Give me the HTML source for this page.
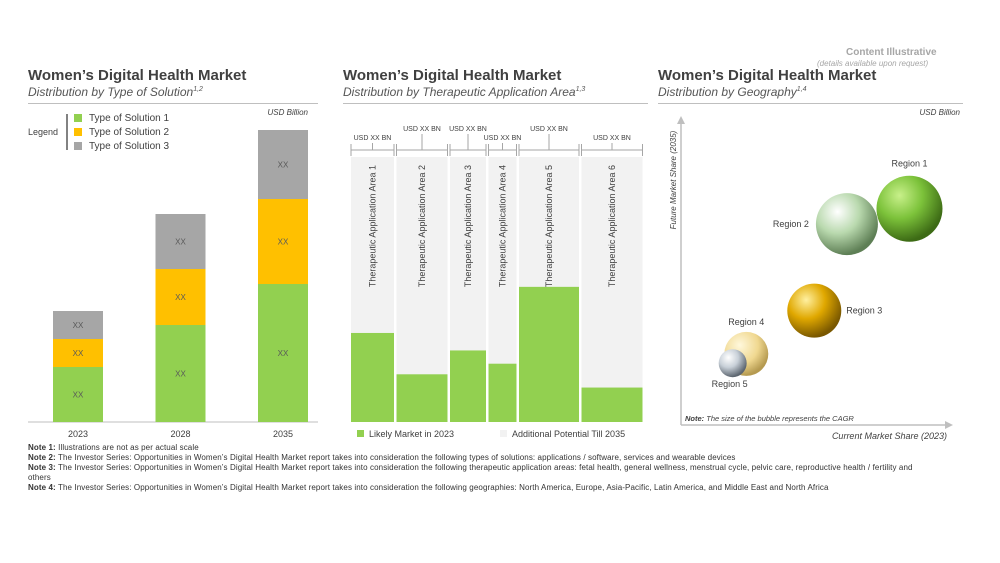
<!DOCTYPE html>
<html><head><meta charset="utf-8"><style>
body{margin:0;width:1000px;height:563px;background:#fff;font-family:"Liberation Sans",sans-serif;overflow:hidden;position:relative}
.t{position:absolute;color:#404040}
.h{font-size:15px;font-weight:bold;color:#404040}
.s{font-size:12px;font-style:italic;color:#555}
.hr{position:absolute;height:1px;background:#bfbfbf}
.note{position:absolute;left:28px;font-size:8px;color:#333;width:900px;line-height:10px;letter-spacing:0.1px}
</style></head><body>
<div class="t" style="left:846px;top:47px;font-size:10px;font-weight:bold;color:#a6a6a6">Content Illustrative</div>
<div class="t" style="left:817px;top:59px;font-size:8px;font-style:italic;color:#a6a6a6">(details available upon request)</div>

<div class="t h" style="left:28px;top:67px">Women’s Digital Health Market</div>
<div class="t s" style="left:28px;top:85px">Distribution by Type of Solution<sup style="font-size:7px">1,2</sup></div>
<div class="hr" style="left:28px;top:103px;width:290px"></div>
<div class="t h" style="left:343px;top:67px">Women’s Digital Health Market</div>
<div class="t s" style="left:343px;top:85px">Distribution by Therapeutic Application Area<sup style="font-size:7px">1,3</sup></div>
<div class="hr" style="left:343px;top:103px;width:305px"></div>
<div class="t h" style="left:658px;top:67px">Women’s Digital Health Market</div>
<div class="t s" style="left:658px;top:85px">Distribution by Geography<sup style="font-size:7px">1,4</sup></div>
<div class="hr" style="left:658px;top:103px;width:305px"></div>

<svg id="c" width="1000" height="563" style="position:absolute;left:0;top:0" font-family="Liberation Sans, sans-serif">
<defs>
<radialGradient id="g1" cx="35%" cy="30%" r="70%"><stop offset="0" stop-color="#c8f08a"/><stop offset="0.5" stop-color="#7cc23a"/><stop offset="1" stop-color="#3d6b15"/></radialGradient>
<radialGradient id="g2" cx="35%" cy="30%" r="70%"><stop offset="0" stop-color="#ffffff"/><stop offset="0.5" stop-color="#b9d9ae"/><stop offset="1" stop-color="#5e7f55"/></radialGradient>
<radialGradient id="g3" cx="35%" cy="30%" r="70%"><stop offset="0" stop-color="#fff0a0"/><stop offset="0.5" stop-color="#e0a800"/><stop offset="1" stop-color="#7a5800"/></radialGradient>
<radialGradient id="g4" cx="35%" cy="30%" r="70%"><stop offset="0" stop-color="#fff8dc"/><stop offset="0.6" stop-color="#f0d890"/><stop offset="1" stop-color="#b59a50"/></radialGradient>
<radialGradient id="g5" cx="35%" cy="30%" r="70%"><stop offset="0" stop-color="#ffffff"/><stop offset="0.5" stop-color="#c8d0d8"/><stop offset="1" stop-color="#5d6670"/></radialGradient>
</defs>
</svg>

<div class="note" style="top:443px"><b>Note 1:</b> Illustrations are not as per actual scale</div>
<div class="note" style="top:453px"><b>Note 2:</b> The Investor Series: Opportunities in Women’s Digital Health Market report takes into consideration the following types of solutions: applications / software, services and wearable devices</div>
<div class="note" style="top:463px"><b>Note 3:</b> The Investor Series: Opportunities in Women’s Digital Health Market report takes into consideration the following therapeutic application areas: fetal health, general wellness, menstrual cycle, pelvic care, reproductive health / fertility and others</div>
<div class="note" style="top:483px"><b>Note 4:</b> The Investor Series: Opportunities in Women’s Digital Health Market report takes into consideration the following geographies: North America, Europe, Asia-Pacific, Latin America, and Middle East and North Africa</div>

<script>
// Chart 1 data
const years=['2023','2028','2035'];
const sol1=[55,97,138];
const sol2=[28,56,85];
const sol3=[28,55,69];
// Chart 2 data
const areas=['Therapeutic Application Area 1','Therapeutic Application Area 2','Therapeutic Application Area 3','Therapeutic Application Area 4','Therapeutic Application Area 5','Therapeutic Application Area 6'];
const areaSize=[43,51,36,28,60,61];
const likelyShare=[0.336,0.18,0.27,0.22,0.51,0.13];
// Chart 3 data
const regions=['Region 1','Region 2','Region 3','Region 4','Region 5'];
const currentShare=[84,61,49,24,19];
const futureShare=[70,65,37,23,20];
const cagr=[33,31,27,22,14];

const svg=document.getElementById('c');
const NS='http://www.w3.org/2000/svg';
function mk(tag,a,txt){const e=document.createElementNS(NS,tag);for(const k in a)e.setAttribute(k,a[k]);if(txt!==undefined)e.textContent=txt;svg.appendChild(e);return e;}

// ---- Chart 1 ----
const base1=422, y1=v=>v*1.0;
const x1=i=>53+i*102.5;
mk('text',{x:308,y:115,'font-size':8,'font-style':'italic','text-anchor':'end',fill:'#404040'},'USD Billion');
mk('line',{x1:28,y1:422,x2:318,y2:422,stroke:'#bfbfbf'});
const cols=['#92d050','#ffc000','#a6a6a6'];
years.forEach((yr,i)=>{
  let b=base1;
  [sol1[i],sol2[i],sol3[i]].forEach((v,k)=>{
    const h=y1(v);
    const r=mk('rect',{x:x1(i),y:b-h,width:50,height:h,fill:cols[k]});
    
    
    mk('text',{x:x1(i)+25,y:b-h/2+3,'font-size':8,'text-anchor':'middle',fill:'#595959'},'XX');
    b-=h;
  });
  mk('text',{x:x1(i)+25,y:437,'font-size':9,'text-anchor':'middle',fill:'#404040'},yr);
});
mk('text',{x:28,y:135,'font-size':9,fill:'#404040'},'Legend');
mk('line',{x1:67,y1:114,x2:67,y2:150,stroke:'#595959','stroke-width':1.5});
['Type of Solution 1','Type of Solution 2','Type of Solution 3'].forEach((t,k)=>{
  mk('rect',{x:74,y:114+k*14,width:8,height:8,fill:cols[k]});
  const tx=mk('text',{x:89,y:121+k*14,'font-size':10,fill:'#404040'},t);
  
  
});

// ---- Chart 2 ----
const top2=157,bot2=422,H2=bot2-top2;
let xs=351;const gap=2.5;
areas.forEach((a,i)=>{
  const w=areaSize[i];
  const g=mk('rect',{x:xs,y:top2,width:w,height:H2,fill:'#f2f2f2'});
  
  
  const gh=likelyShare[i]*H2;
  const r=mk('rect',{x:xs,y:bot2-gh,width:w,height:gh,fill:'#92d050'});
  
  
  const cx=xs+w/2;
  mk('text',{x:0,y:0,'font-size':9,fill:'#404040','text-anchor':'end',transform:`translate(${cx+3},${top2+8}) rotate(-90)`},a);
  mk('line',{x1:xs,y1:150,x2:xs+w,y2:150,stroke:'#a6a6a6'});
  mk('line',{x1:xs,y1:144,x2:xs,y2:156,stroke:'#a6a6a6'});
  mk('line',{x1:xs+w,y1:144,x2:xs+w,y2:156,stroke:'#a6a6a6'});
  const hi=(i===1||i===2||i===4);
  const ly=hi?131:140;
  mk('line',{x1:cx,y1:ly+3,x2:cx,y2:150,stroke:'#a6a6a6'});
  mk('text',{x:cx,y:ly,'font-size':7,'text-anchor':'middle',fill:'#404040'},'USD XX  BN');
  xs+=w+gap;
});
mk('rect',{x:357,y:430,width:7,height:7,fill:'#92d050'});
mk('text',{x:369,y:437,'font-size':9,fill:'#404040'},'Likely Market in 2023');
mk('rect',{x:500,y:430,width:7,height:7,fill:'#f2f2f2'});
mk('text',{x:512,y:437,'font-size':9,fill:'#404040'},'Additional Potential Till 2035');

// ---- Chart 3 ----
const X3=v=>681+v/100*272, Y3=v=>425-v/100*309;
mk('text',{x:960,y:115,'font-size':8,'font-style':'italic','text-anchor':'end',fill:'#404040'},'USD Billion');
mk('line',{x1:681,y1:425,x2:681,y2:122,stroke:'#bfbfbf','stroke-width':1.5});
mk('polygon',{points:'677,124 685,124 681,116',fill:'#bfbfbf'});
mk('line',{x1:681,y1:425,x2:947,y2:425,stroke:'#bfbfbf','stroke-width':1.5});
mk('polygon',{points:'945,421 945,429 953,425',fill:'#bfbfbf'});
mk('text',{x:0,y:0,'font-size':8,'font-style':'italic',fill:'#404040','text-anchor':'middle',transform:'translate(676,180) rotate(-90)'},'Future Market Share (2035)');
mk('text',{x:947,y:439,'font-size':9,'font-style':'italic',fill:'#404040','text-anchor':'end'},'Current Market Share (2023)');
const nt=mk('text',{x:685,y:421,'font-size':7.5,'font-style':'italic',fill:'#404040'});
nt.innerHTML='<tspan font-weight="bold">Note:</tspan> The size of the bubble represents the CAGR';
const lab=[[0,-42,'middle'],[-38,3,'end'],[32,3,'start'],[0,-29,'middle'],[-3,24,'middle']];
regions.forEach((r,i)=>{
  const cx=X3(currentShare[i]),cy=Y3(futureShare[i]);
  const c=mk('circle',{cx:cx,cy:cy,r:cagr[i],fill:'url(#g'+(i+1)+')'});
  
  
  const L=lab[i];
  mk('text',{x:cx+L[0],y:cy+L[1],'font-size':9,fill:'#404040','text-anchor':L[2]},r);
});
</script>
</body></html>
